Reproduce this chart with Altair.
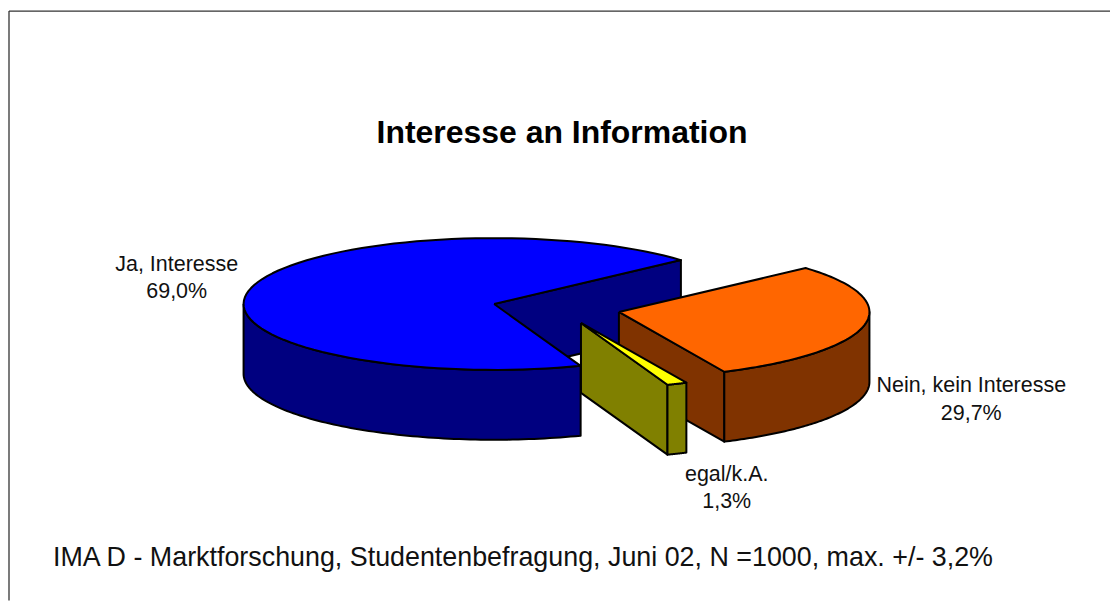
import math
import altair as alt
import pandas as pd

names = ["Ja, Interesse", "egal/k.A.", "Nein, kein Interesse"]
shares = [69.0, 1.3, 29.7]
pct_labels = ["69,0%", "1,3%", "29,7%"]
top_colors = ["#0000ff", "#ffff00", "#ff6600"]
side_colors = ["#000080", "#808000", "#803300"]
# apex of each exploded slice in the picture's plane
apex_x = [494, 581, 619]
apex_y = [304, 323, 312]
label_x = [176, 727, 972]
label_y1 = [265, 475, 386]
label_y2 = [292, 502, 414]
title_text = "Interesse an Information"
footer_text = "IMA D - Marktforschung, Studentenbefragung, Juni 02, N =1000, max. +/- 3,2%"

A, B, DEPTH = 251, 66, 70
W, H = 1103, 593
FIRST_ANGLE = 41.8  # degrees above the x axis, slices run counter-clockwise

x_s = alt.X("x:Q", scale=alt.Scale(domain=[8, 8 + W], nice=False, zero=False), axis=None)
y_s = alt.Y("y:Q", scale=alt.Scale(domain=[8 + H, 8], nice=False, zero=False), axis=None)


def pt(i, deg, dz=0):
    t = math.radians(deg)
    return apex_x[i] + A * math.cos(t), apex_y[i] - B * math.sin(t) + dz


def arc_pts(i, a0, a1, dz=0, n=90):
    return [pt(i, a0 + (a1 - a0) * k / n, dz) for k in range(n + 1)]


def poly(points, fill):
    df = pd.DataFrame({"x": [p[0] for p in points], "y": [p[1] for p in points]})
    df["o"] = range(len(df))
    return (
        alt.Chart(df)
        .mark_line(fill=fill, stroke="black", strokeWidth=2, strokeJoin="round", clip=False)
        .encode(x=x_s, y=y_s, order="o:Q")
    )


layers = []
cur = FIRST_ANGLE
for i in [0, 1, 2]:
    a0, a1 = cur, cur + shares[i] * 3.6
    cur = a1
    cen = (apex_x[i], apex_y[i])
    cen_b = (apex_x[i], apex_y[i] + DEPTH)
    # cut face at the slice's starting angle
    layers.append(poly([cen, pt(i, a0), pt(i, a0, DEPTH), cen_b, cen], side_colors[i]))
    # outer rim: only the front half of the ellipse shows
    r0, r1 = max(a0, 180), min(a1, 360)
    layers.append(poly(arc_pts(i, r0, r1) + arc_pts(i, r1, r0, DEPTH) + [pt(i, r0)], side_colors[i]))
    # top face
    layers.append(poly([cen] + arc_pts(i, a0, a1) + [cen], top_colors[i]))

# draw order as in the reference: blue, orange, then the small slice in front
order = list(range(3)) + list(range(6, 9)) + list(range(3, 6))
layers = [layers[k] for k in order]

labels = pd.DataFrame({
    "x": label_x + label_x,
    "y": label_y1 + label_y2,
    "t": names + pct_labels,
})
text_labels = alt.Chart(labels).mark_text(font="Liberation Sans", fontSize=21.5, color="#111111").encode(x=x_s, y=y_s, text="t:N")
title = alt.Chart(pd.DataFrame({"x": [562], "y": [133], "t": [title_text]})).mark_text(
    font="Liberation Sans", fontSize=32, fontWeight="bold", color="black").encode(x=x_s, y=y_s, text="t:N")
footer = alt.Chart(pd.DataFrame({"x": [52], "y": [558], "t": [footer_text]})).mark_text(
    font="Liberation Sans", fontSize=26.9, align="left", color="#111111").encode(x=x_s, y=y_s, text="t:N")

frame_top = alt.Chart(pd.DataFrame({"x": [8], "x2": [8 + W], "y": [10.5]})).mark_rule(color="#333333", strokeWidth=1.3).encode(x=x_s, x2="x2:Q", y=y_s)
frame_left = alt.Chart(pd.DataFrame({"x": [8], "y": [10.5], "y2": [8 + H]})).mark_rule(color="#333333", strokeWidth=1.3).encode(x=x_s, y=y_s, y2="y2:Q")

chart = (
    alt.layer(frame_top, frame_left, *layers, text_labels, title, footer)
    .properties(width=W, height=H, padding=0)
    .configure_view(stroke=None)
)
chart.save("out.html", embed_options={"renderer": "svg", "actions": False})
